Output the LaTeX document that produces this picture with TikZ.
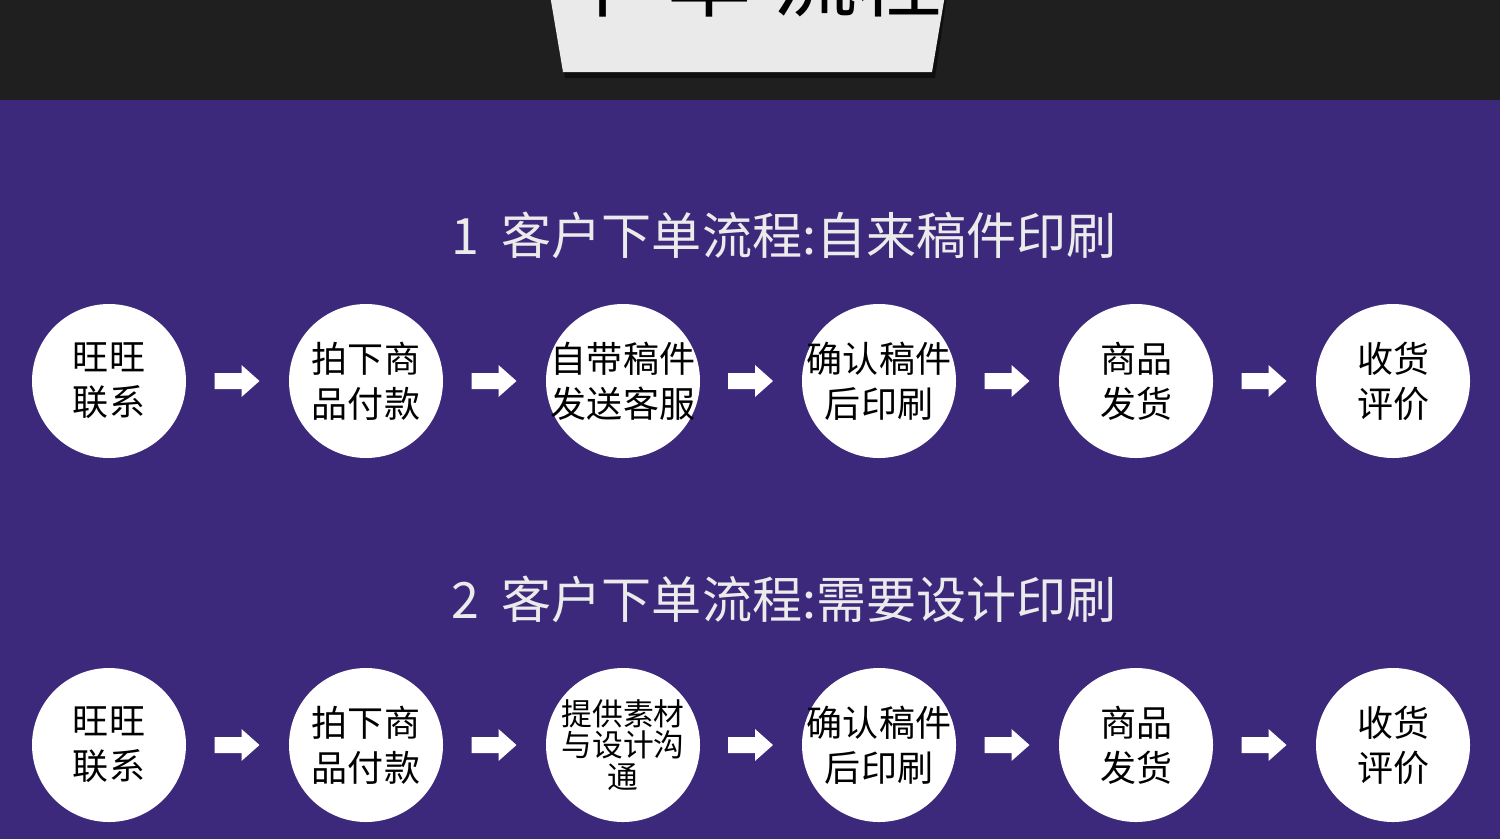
\documentclass[tikz,border=0pt]{standalone}
\usepackage{fontspec}
\usetikzlibrary{calc}
\setmainfont{Noto Sans CJK SC}
\begin{document}
\begin{tikzpicture}[x=0.02cm,y=-0.02cm,
 circ/.style={circle,fill=white,minimum size=154*0.02cm,inner sep=-20pt,align=center,font=\fontsize{20.5}{25.5}\selectfont},
 circs/.style={circ,font=\fontsize{17.5}{18}\selectfont},
 ttl/.style={text=white!92!black,font=\fontsize{28.5}{30}\selectfont}]
\useasboundingbox (0,0) rectangle (1500,839);
\begin{scope}
\clip (0,0) rectangle (1500,839);
\fill[fill={rgb,255:red,60;green,41;blue,124}] (0,0) rectangle (1500,839);
\fill[fill={rgb,255:red,31;green,31;blue,31}] (0,0) rectangle (1500,100);
\fill[black,opacity=0.5] (552,-5) -- (947,-5) -- (935,78) -- (565,78) -- cycle;
\fill[fill={rgb,255:red,234;green,234;blue,234}] (550,-5) -- (945,-5) -- (932,72) -- (563,72) -- cycle;
\node[font=\fontsize{48}{48}\selectfont,text=black] (top) at (752,-22) {下\hspace{12pt}单\hspace{12pt}流程};
\end{scope}
\node[ttl] (t1) at (784,235) {1\ \ 客户下单流程:自来稿件印刷};
\node[ttl] (t2) at (784,599) {2\ \ 客户下单流程:需要设计印刷};
\foreach \r/\y in {a/381, b/745}{
 \node[circ] (\r1) at (109,\y) {旺旺\\联系};
 \node[circ] (\r2) at (366,\y) {拍下商\\品付款};
 \node[circ] (\r4) at (879,\y) {确认稿件\\后印刷};
 \node[circ] (\r5) at (1136,\y) {商品\\发货};
 \node[circ] (\r6) at (1393,\y) {收货\\评价};
}
\node[circ] (a3) at (623,381) {自带稿件\\发送客服};
\node[circs] (b3) at (623,745) {提供素材\\与设计沟\\通};
\foreach \r in {a,b}{
 \foreach \i/\j in {1/2,2/3,3/4,4/5,5/6}{
  \coordinate (m) at ($(\r\i)!0.5!(\r\j)$);
  \fill[white] ([shift={(-23,-8)}]m) -- ([shift={(4,-8)}]m) -- ([shift={(4,-16)}]m) -- ([shift={(22,0)}]m) -- ([shift={(4,16)}]m) -- ([shift={(4,8)}]m) -- ([shift={(-23,8)}]m) -- cycle;
 }
}
\end{tikzpicture}
\end{document}
